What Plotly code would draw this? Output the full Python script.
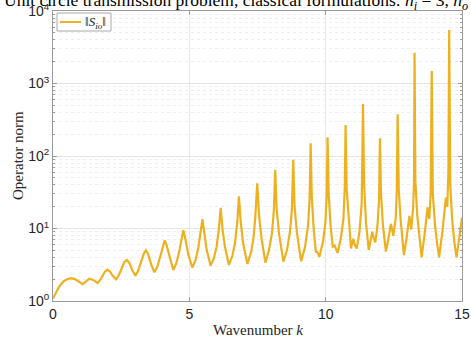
import plotly.graph_objects as go

# Wavenumber samples and operator norm values
wavenumber = [
    0.00, 0.10, 0.20, 0.30, 0.40, 0.52, 0.65, 0.78, 0.90, 1.00,
    1.09, 1.20, 1.33, 1.45, 1.56, 1.64, 1.73, 1.82, 1.91, 2.00,
    2.09, 2.18, 2.32, 2.42, 2.52, 2.62, 2.71, 2.80, 2.90, 3.02,
    3.12, 3.22, 3.33, 3.41, 3.49, 3.60, 3.72, 3.83, 3.94, 4.03,
    4.10, 4.17, 4.28, 4.41, 4.52, 4.63, 4.72, 4.78, 4.85, 4.96,
    5.11, 5.22, 5.33, 5.42, 5.48, 5.54, 5.64, 5.78, 5.90, 6.00,
    6.08, 6.15, 6.22, 6.31, 6.45, 6.58, 6.68, 6.76, 6.82, 6.88,
    6.97, 7.13, 7.27, 7.36, 7.42, 7.49, 7.56, 7.65, 7.79, 7.92,
    8.03, 8.10, 8.15, 8.20, 8.29, 8.45, 8.58, 8.69, 8.76, 8.81,
    8.86, 8.95, 9.10, 9.24, 9.35, 9.41, 9.45, 9.49, 9.56, 9.64,
    9.70, 9.77, 9.90, 9.99, 10.04, 10.07, 10.11, 10.18, 10.26, 10.33,
    10.40, 10.44, 10.56, 10.65, 10.70, 10.73, 10.77, 10.84, 10.93, 11.01,
    11.08, 11.14, 11.24, 11.32, 11.37, 11.41, 11.48, 11.58, 11.65, 11.71,
    11.76, 11.82, 11.90, 11.96, 11.99, 12.03, 12.10, 12.21, 12.30, 12.39,
    12.44, 12.48, 12.57, 12.61, 12.64, 12.68, 12.75, 12.87, 12.97, 13.07,
    13.10, 13.14, 13.21, 13.24, 13.26, 13.29, 13.36, 13.44, 13.52, 13.63,
    13.74, 13.77, 13.80, 13.85, 13.89, 13.93, 14.01, 14.08, 14.16, 14.28,
    14.41, 14.44, 14.46, 14.50, 14.53, 14.57, 14.64, 14.72, 14.80, 14.90,
    15.00,
]
operator_norm = [
    1.08, 1.30, 1.52, 1.72, 1.88, 2.00, 2.06, 2.02, 1.92, 1.80,
    1.71, 1.85, 2.03, 1.97, 1.83, 1.77, 1.95, 2.25, 2.55, 2.70,
    2.55, 2.25, 1.99, 2.30, 2.90, 3.45, 3.68, 3.35, 2.70, 2.23,
    2.60, 3.40, 4.50, 5.00, 4.40, 3.20, 2.49, 3.00, 4.20, 5.80,
    6.87, 5.80, 3.90, 2.68, 3.30, 4.80, 7.30, 9.50, 7.30, 4.40,
    2.88, 3.60, 5.40, 9.00, 13.5, 9.20, 5.00, 3.07, 3.90, 5.60,
    9.50, 19.2, 9.60, 5.50, 3.14, 4.20, 6.50, 12.5, 27.8, 12.8,
    6.30, 3.24, 4.80, 7.70, 14.6, 42.0, 14.6, 7.20, 3.38, 5.00,
    8.50, 18.0, 64.0, 19.0, 8.50, 3.49, 5.00, 9.00, 18.0, 89.0,
    20.0, 8.50, 3.53, 5.50, 10.5, 25.0, 150.0, 28.0, 10.0, 4.80,
    4.70, 4.08, 6.50, 12.0, 30.0, 181.0, 30.0, 11.0, 5.60, 5.80,
    4.80, 4.60, 7.50, 13.5, 35.0, 268.0, 35.0, 13.0, 5.30, 7.20,
    5.80, 5.30, 9.00, 22.0, 521.0, 40.0, 12.0, 5.05, 6.80, 9.00,
    7.50, 6.45, 11.0, 26.0, 175.0, 30.0, 11.0, 4.80, 7.20, 11.6,
    9.50, 7.90, 14.0, 35.0, 376.0, 35.0, 13.0, 4.30, 7.50, 14.9,
    12.0, 9.70, 20.0, 45.0, 2660.0, 45.0, 15.0, 7.00, 4.00, 8.50,
    19.6, 16.0, 13.5, 30.0, 1490.0, 30.0, 11.0, 6.50, 4.00, 9.00,
    26.6, 22.0, 20.0, 60.0, 5470.0, 40.0, 13.0, 6.50, 4.00, 7.50,
    14.2,
]

x_tick_values = [0, 5, 10, 15]
x_tick_labels = ["0", "5", "10", "15"]
y_tick_values = [1, 10, 100, 1000, 10000]
y_tick_labels = ["10<sup>0</sup>", "10<sup>1</sup>", "10<sup>2</sup>",
                 "10<sup>3</sup>", "10<sup>4</sup>"]
y_minor_values = [m * 10 ** e for e in range(4) for m in range(2, 10)]

series_name = "‖<i>S</i><sub><i>io</i></sub>‖"
title_text = ("Unit circle transmission problem, classical formulations: "
              "<i>n</i><sub><i>i</i></sub> = 3, <i>n</i><sub><i>o</i></sub> = 1")

LINE_COLOR = "#EDB120"
FRAME = "#9a9a9a"
SERIF = "Liberation Serif, Times New Roman, serif"
SANS = "Liberation Sans, Arial, sans-serif"

fig = go.Figure()
fig.add_trace(go.Scatter(
    x=wavenumber, y=operator_norm, mode="lines", name=series_name,
    line=dict(color=LINE_COLOR, width=2.2), showlegend=False,
))

fig.update_layout(
    width=471, height=338,
    margin=dict(l=53, r=9, t=11, b=37),
    paper_bgcolor="white", plot_bgcolor="white",
    showlegend=False,
    xaxis=dict(
        range=[0, 15], tickvals=x_tick_values, ticktext=x_tick_labels,
        automargin=False,
        showgrid=True, gridcolor="#e8e8e8", gridwidth=1,
        zeroline=False, showline=True, linecolor=FRAME, linewidth=1,
        mirror="ticks", ticks="inside", ticklen=4, tickcolor=FRAME,
        tickfont=dict(family=SANS, size=14, color="#262626"),
    ),
    yaxis=dict(
        type="log", range=[0, 4], tickvals=y_tick_values, ticktext=y_tick_labels,
        automargin=False,
        showgrid=True, gridcolor="#e4e4e4", gridwidth=1,
        zeroline=False, showline=True, linecolor=FRAME, linewidth=1,
        mirror="ticks", ticks="inside", ticklen=4, tickcolor=FRAME,
        tickfont=dict(family=SANS, size=14, color="#262626"),
        minor=dict(tickvals=y_minor_values, ticks="inside", ticklen=2,
                   tickcolor=FRAME, showgrid=True, gridcolor="#eeeeee",
                   griddash="dot", gridwidth=1),
    ),
    shapes=[
        # legend box and line sample (pixel offsets from the plot's top-left corner)
        dict(type="rect", xref="paper", yref="paper",
             xsizemode="pixel", ysizemode="pixel", xanchor=0, yanchor=1,
             x0=4, x1=58, y0=-2, y1=-20,
             line=dict(color="#a8a8a8", width=1), fillcolor="white", layer="above"),
        dict(type="line", xref="paper", yref="paper",
             xsizemode="pixel", ysizemode="pixel", xanchor=0, yanchor=1,
             x0=7, x1=28, y0=-11, y1=-11,
             line=dict(color=LINE_COLOR, width=2), layer="above"),
    ],
    annotations=[
        dict(text=title_text, xref="paper", yref="paper", x=0, y=1,
             xanchor="left", yanchor="bottom", xshift=-51, yshift=-4,
             showarrow=False, font=dict(family=SERIF, size=17.5, color="black")),
        dict(text="Operator norm", xref="paper", yref="paper", x=0, y=0.5,
             xanchor="center", yanchor="middle", xshift=-35, textangle=-90,
             showarrow=False, font=dict(family=SERIF, size=15, color="#262626")),
        dict(text="Wavenumber <i>k</i>", xref="paper", yref="paper", x=0.5, y=0,
             xanchor="center", yanchor="top", yshift=-19,
             showarrow=False, font=dict(family=SERIF, size=15, color="#262626")),
        dict(text=series_name, xref="paper", yref="paper", x=0, y=1,
             xanchor="left", yanchor="middle", xshift=30, yshift=-11,
             showarrow=False, font=dict(family=SERIF, size=13, color="#222")),
    ],
)

fig.write_html(
    "out.html",
    config={"displayModeBar": False},
    post_script="document.body.style.margin='0';document.body.style.overflow='hidden';",
)
